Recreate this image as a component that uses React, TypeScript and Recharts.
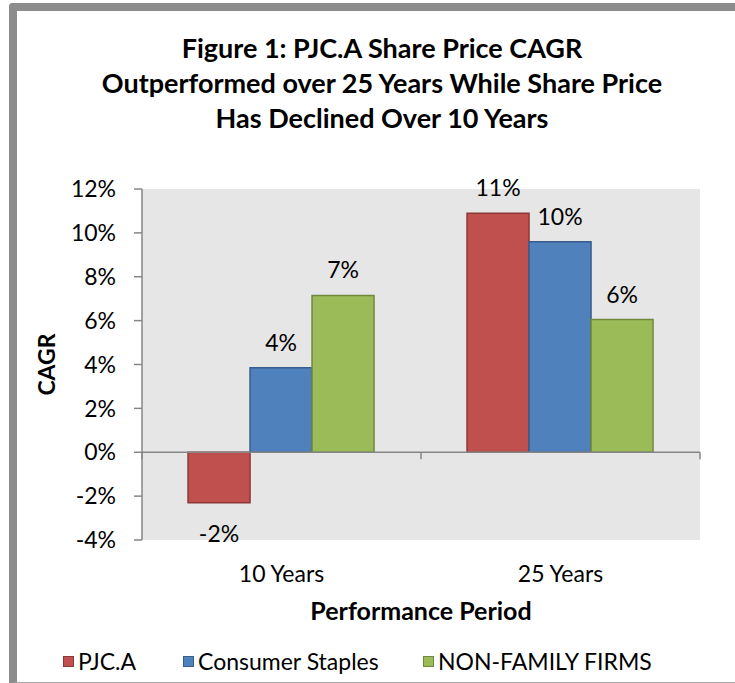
import React from "react"
import { Bar, BarChart, CartesianGrid, Label, LabelList, ReferenceLine, XAxis, YAxis } from "recharts"

const periods = ["10 Years", "25 Years"]
const pjcValues = [-2.3, 10.9]
const staplesValues = [3.85, 9.6]
const nonFamilyValues = [7.15, 6.05]
const yTicks = [-4, -2, 0, 2, 4, 6, 8, 10, 12]

const seriesNames = ["PJC.A", "Consumer Staples", "NON-FAMILY FIRMS"]
const fills = ["#C0504D", "#4F81BD", "#9BBB59"]
const strokes = ["#8C3836", "#385D8A", "#71893F"]

const data = periods.map((period, i) => ({
  period,
  pjc: pjcValues[i],
  staples: staplesValues[i],
  nonFamily: nonFamilyValues[i],
}))

const FONT = "Lato, 'Open Sans', sans-serif"
const AXIS = "#868686"
const TXT = 23

const ValueLabel = (props: any) => {
  const { x, y, width, height, value } = props
  const top = Math.min(y, y + height)
  const bottom = Math.max(y, y + height)
  const ty = value >= 0 ? top - 26 : bottom + 30
  return (
    <text x={x + width / 2} y={ty} textAnchor="middle" dominantBaseline="central" fontSize={TXT} fill="#000" fontFamily={FONT}>
      {`${Math.round(value)}%`}
    </text>
  )
}

const ZeroLine = (props: any) => {
  const { x1, x2, y1 } = props
  const mid = (x1 + x2) / 2
  return (
    <g stroke={AXIS} strokeWidth={1.5}>
      <line x1={x1} x2={x2} y1={y1} y2={y1} />
      <line x1={x1} x2={x1} y1={y1} y2={y1 + 7} />
      <line x1={mid} x2={mid} y1={y1} y2={y1 + 7} />
      <line x1={x2} x2={x2} y1={y1} y2={y1 + 7} />
    </g>
  )
}

const legendLeft = [63, 183, 423]

export default function App() {
  return (
    <div style={{ position: "absolute", left: 0, top: 0, width: 735, height: 683, overflow: "hidden", background: "#fff", fontFamily: FONT }}>
      <div
        style={{
          position: "absolute",
          left: 9,
          top: 3,
          width: 760,
          height: 671,
          borderLeft: "8px solid #8C8C8C",
          borderTop: "8px solid #8C8C8C",
          borderBottom: "2px solid #A6A6A6",
          borderTopLeftRadius: 4,
        }}
      />
      <div
        style={{
          position: "absolute",
          left: 23,
          width: 718,
          top: 30,
          textAlign: "center",
          fontWeight: 700,
          fontSize: 27,
          lineHeight: "35px",
          color: "#000",
        }}
      >
        Figure 1: PJC.A Share Price CAGR
        <br />
        Outperformed over 25 Years While Share Price
        <br />
        Has Declined Over 10 Years
      </div>
      <div style={{ position: "absolute", left: 0, top: 0 }}>
        <BarChart
          width={735}
          height={683}
          data={data}
          margin={{ top: 189, right: 35, left: 0, bottom: 0 }}
          barCategoryGap="16.5%"
          barGap={0}
        >
          <CartesianGrid horizontal={false} vertical={false} fill="#E6E6E6" stroke="none" />
          <XAxis
            dataKey="period"
            height={143}
            axisLine={false}
            tickLine={false}
            tickMargin={20}
            tick={{ fontSize: TXT, fill: "#000", fontFamily: FONT }}
          >
            <Label
              value="Performance Period"
              position="insideTop"
              offset={62}
              style={{ fontSize: 25, fontWeight: 700, fill: "#000", fontFamily: FONT }}
            />
          </XAxis>
          <YAxis
            width={142}
            domain={[-4, 12]}
            ticks={yTicks}
            interval={0}
            tickFormatter={(v: number) => `${v}%`}
            axisLine={{ stroke: AXIS, strokeWidth: 1.5 }}
            tickLine={{ stroke: AXIS, strokeWidth: 1.5 }}
            tickSize={8}
            tickMargin={18}
            tick={{ fontSize: TXT, fill: "#000", fontFamily: FONT }}
          >
            <Label
              value="CAGR"
              angle={-90}
              position="center"
              dx={-24}
              style={{ fontSize: 23, fontWeight: 700, fill: "#000", fontFamily: FONT }}
            />
          </YAxis>
          <ReferenceLine y={0} shape={<ZeroLine />} />
          <Bar dataKey="pjc" name={seriesNames[0]} fill={fills[0]} stroke={strokes[0]} strokeWidth={1.5} isAnimationActive={false}>
            <LabelList dataKey="pjc" content={<ValueLabel />} />
          </Bar>
          <Bar dataKey="staples" name={seriesNames[1]} fill={fills[1]} stroke={strokes[1]} strokeWidth={1.5} isAnimationActive={false}>
            <LabelList dataKey="staples" content={<ValueLabel />} />
          </Bar>
          <Bar dataKey="nonFamily" name={seriesNames[2]} fill={fills[2]} stroke={strokes[2]} strokeWidth={1.5} isAnimationActive={false}>
            <LabelList dataKey="nonFamily" content={<ValueLabel />} />
          </Bar>
        </BarChart>
      </div>
      {seriesNames.map((name, i) => (
        <div
          key={name}
          style={{ position: "absolute", left: legendLeft[i], top: 647, height: 28, display: "flex", alignItems: "center", fontSize: TXT, color: "#000" }}
        >
          <span style={{ display: "inline-block", width: 9, height: 9, background: fills[i], border: `1px solid ${strokes[i]}`, marginRight: 4 }} />
          {name}
        </div>
      ))}
    </div>
  )
}
